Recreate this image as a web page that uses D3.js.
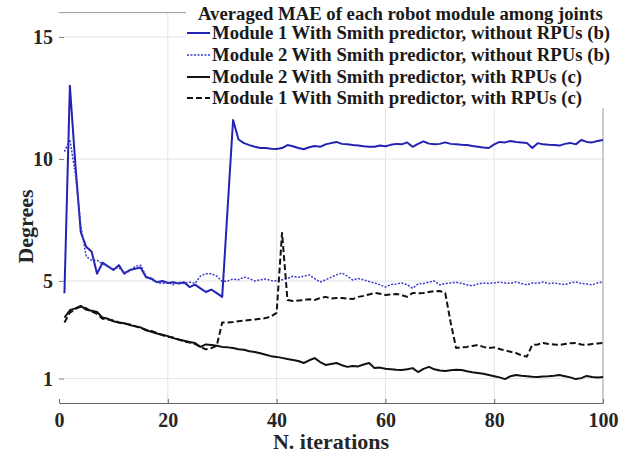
<!DOCTYPE html>
<html><head><meta charset="utf-8">
<script src="https://cdn.jsdelivr.net/npm/d3@7"></script>
<style>
html,body{margin:0;padding:0;background:#fff;}
text{font-family:"Liberation Serif","Times New Roman",serif;font-weight:bold;}
</style></head>
<body>
<svg id="chart" width="635" height="460"></svg>
<script>
const iterations = d3.range(1, 101);
const xTicks = [0, 20, 40, 60, 80, 100];
const yTicks = [1, 5, 10, 15];
const legendTitle = "Averaged MAE of each robot module among joints";
const seriesNames = [
  "Module 1 With Smith predictor, without RPUs (b)",
  "Module 2 With Smith predictor, without RPUs (b)",
  "Module 2 With Smith predictor, with RPUs (c)",
  "Module 1 With Smith predictor, with RPUs (c)"
];
const module1NoRPU = [4.5,13.0,9.8,7.0,6.4,6.2,5.3,5.75,5.6,5.45,5.65,5.3,5.45,5.5,5.55,5.15,5.1,4.95,5.0,4.92,
4.95,4.9,4.95,4.75,4.85,4.7,4.55,4.65,4.5,4.35,8.0,11.6,10.8,10.65,10.57,10.5,10.45,10.45,10.42,10.41,
10.45,10.57,10.52,10.45,10.4,10.48,10.53,10.5,10.6,10.65,10.7,10.62,10.6,10.57,10.55,10.52,10.5,10.5,10.55,10.52,
10.58,10.62,10.6,10.68,10.5,10.62,10.72,10.63,10.6,10.62,10.68,10.62,10.6,10.58,10.57,10.53,10.5,10.47,10.45,10.6,
10.7,10.68,10.74,10.7,10.68,10.66,10.45,10.65,10.6,10.58,10.57,10.55,10.62,10.66,10.6,10.78,10.7,10.68,10.74,10.78];
const module2NoRPU = [10.3,10.8,9.4,7.3,6.0,5.85,5.85,5.7,5.6,5.5,5.55,5.35,5.4,5.6,5.65,5.2,5.05,4.95,4.9,4.95,
4.85,4.95,4.9,4.95,4.9,5.2,5.3,5.3,5.2,4.98,5.0,5.08,5.05,5.16,5.1,5.0,5.05,5.08,5.02,5.0,
5.05,5.1,5.2,5.15,5.2,5.25,5.1,4.96,5.05,5.15,5.25,5.33,5.2,5.04,5.1,5.05,4.98,4.92,4.85,4.75,
4.85,4.88,4.92,4.85,4.7,4.88,4.9,4.95,5.0,4.84,4.9,4.92,4.95,4.9,4.85,4.8,4.88,4.92,4.9,4.92,
4.95,4.92,4.9,4.96,4.9,4.84,4.92,4.9,4.96,4.9,4.92,4.88,4.85,4.92,4.96,4.9,4.88,4.84,4.92,4.96];
const module2RPU = [3.5,3.8,3.88,3.98,3.82,3.78,3.73,3.5,3.45,3.35,3.3,3.27,3.2,3.14,3.1,2.98,2.92,2.85,2.8,2.74,
2.66,2.6,2.55,2.5,2.46,2.3,2.4,2.38,2.35,2.3,2.28,2.25,2.2,2.18,2.12,2.09,2.04,1.98,1.92,1.89,
1.85,1.8,1.76,1.72,1.64,1.75,1.84,1.68,1.56,1.6,1.64,1.55,1.48,1.52,1.5,1.58,1.64,1.43,1.45,1.4,
1.38,1.36,1.35,1.38,1.43,1.27,1.4,1.48,1.38,1.33,1.31,1.34,1.36,1.35,1.3,1.26,1.23,1.2,1.15,1.1,
1.05,0.98,1.1,1.15,1.12,1.1,1.08,1.07,1.09,1.1,1.12,1.15,1.1,1.05,0.98,1.02,1.11,1.07,1.05,1.07];
const module1RPU = [3.3,3.7,3.85,3.95,3.88,3.75,3.65,3.45,3.42,3.38,3.3,3.25,3.22,3.15,3.08,3.0,2.95,2.86,2.78,2.72,
2.68,2.6,2.52,2.48,2.42,2.3,2.2,2.25,2.35,3.3,3.3,3.32,3.35,3.38,3.4,3.42,3.45,3.48,3.55,3.69,
6.97,4.22,4.18,4.2,4.22,4.25,4.22,4.3,4.35,4.28,4.3,4.3,4.28,4.26,4.35,4.39,4.45,4.51,4.48,4.43,
4.45,4.47,4.42,4.35,4.51,4.5,4.51,4.55,4.58,4.59,4.51,3.3,2.25,2.28,2.3,2.34,2.38,2.3,2.25,2.28,
2.21,2.15,2.1,2.05,1.95,1.9,2.38,2.4,2.46,2.42,2.4,2.38,2.42,2.45,2.46,2.4,2.38,2.42,2.44,2.46];

const series = [
  {name: seriesNames[0], values: module1NoRPU, color: "#2222b4", width: 2, dash: null},
  {name: seriesNames[1], values: module2NoRPU, color: "#3a3ac8", width: 1.5, dash: "2,1.5"},
  {name: seriesNames[2], values: module2RPU, color: "#111", width: 2, dash: null},
  {name: seriesNames[3], values: module1RPU, color: "#111", width: 2, dash: "6,3"}
];

const svg = d3.select("#chart");
svg.append("rect").attr("width",635).attr("height",460).attr("fill","#fff");
const x = d3.scaleLinear().domain([0,100]).range([59,603]);
const y = d3.scaleLinear().domain([0,16]).range([403,12.6]);

// grid
const grid = svg.append("g").attr("stroke","#e4e4e4").attr("stroke-width",1);
grid.selectAll(".gx").data([20,40,60,80]).join("line")
  .attr("x1",d=>x(d)).attr("x2",d=>x(d)).attr("y1",y(0)).attr("y2",y(16));
grid.selectAll(".gy").data(yTicks).join("line")
  .attr("x1",x(0)).attr("x2",x(100)).attr("y1",d=>y(d)).attr("y2",d=>y(d));

// frame top/right
svg.append("line").attr("x1",x(0)).attr("x2",x(100)).attr("y1",y(16)).attr("y2",y(16)).attr("stroke","#999");
svg.append("line").attr("x1",x(100)).attr("x2",x(100)).attr("y1",y(16)).attr("y2",y(0)).attr("stroke","#999");

// lines
const line = d3.line().x((d,i)=>x(iterations[i])).y(d=>y(d));
series.forEach(s=>{
  svg.append("path").datum(s.values).attr("d",line).attr("fill","none")
    .attr("stroke",s.color).attr("stroke-width",s.width)
    .attr("stroke-dasharray",s.dash).attr("stroke-linejoin","round");
});

// axes
const xAxis = svg.append("g").attr("transform",`translate(0,${y(0)})`)
  .call(d3.axisBottom(x).tickValues(xTicks).tickSizeInner(-4).tickSizeOuter(0).tickPadding(10));
xAxis.select(".domain").attr("stroke","#666");
xAxis.selectAll(".tick line").attr("stroke","#666");
xAxis.selectAll("text").attr("font-size",20).attr("fill","#262626")
  .attr("font-family","Liberation Serif").attr("font-weight","bold");

const yAxis = svg.append("g").attr("transform",`translate(${x(0)},0)`)
  .call(d3.axisLeft(y).tickValues(yTicks).tickSizeInner(-5).tickSizeOuter(0).tickPadding(6));
yAxis.select(".domain").remove();
yAxis.selectAll(".tick line").attr("stroke","#888");
yAxis.selectAll("text").attr("font-size",20).attr("fill","#262626")
  .attr("font-family","Liberation Serif").attr("font-weight","bold");

// axis labels
svg.append("text").attr("x",331).attr("y",449).attr("text-anchor","middle")
  .attr("font-size",22).attr("fill","#262626").text("N. iterations");
svg.append("text").attr("transform","translate(33,226.5) rotate(-90)").attr("text-anchor","middle")
  .attr("font-size",22).attr("fill","#262626").text("Degrees");

// legend
const lg = svg.append("g");
lg.append("rect").attr("x",186).attr("y",0).attr("width",434).attr("height",108).attr("fill","#fff");
lg.append("text").attr("x",198).attr("y",19.5).attr("font-size",18.7).attr("fill","#1a1a1a").text(legendTitle);
const rowY = [33,55,77,98];
series.forEach((s,i)=>{
  lg.append("line").attr("x1",187).attr("x2",210).attr("y1",rowY[i]).attr("y2",rowY[i])
    .attr("stroke",s.color).attr("stroke-width",s.width).attr("stroke-dasharray",s.dash);
  lg.append("text").attr("x",212).attr("y",rowY[i]+6.3).attr("font-size",18.7).attr("fill","#1a1a1a").text(s.name);
});
</script>
</body></html>
